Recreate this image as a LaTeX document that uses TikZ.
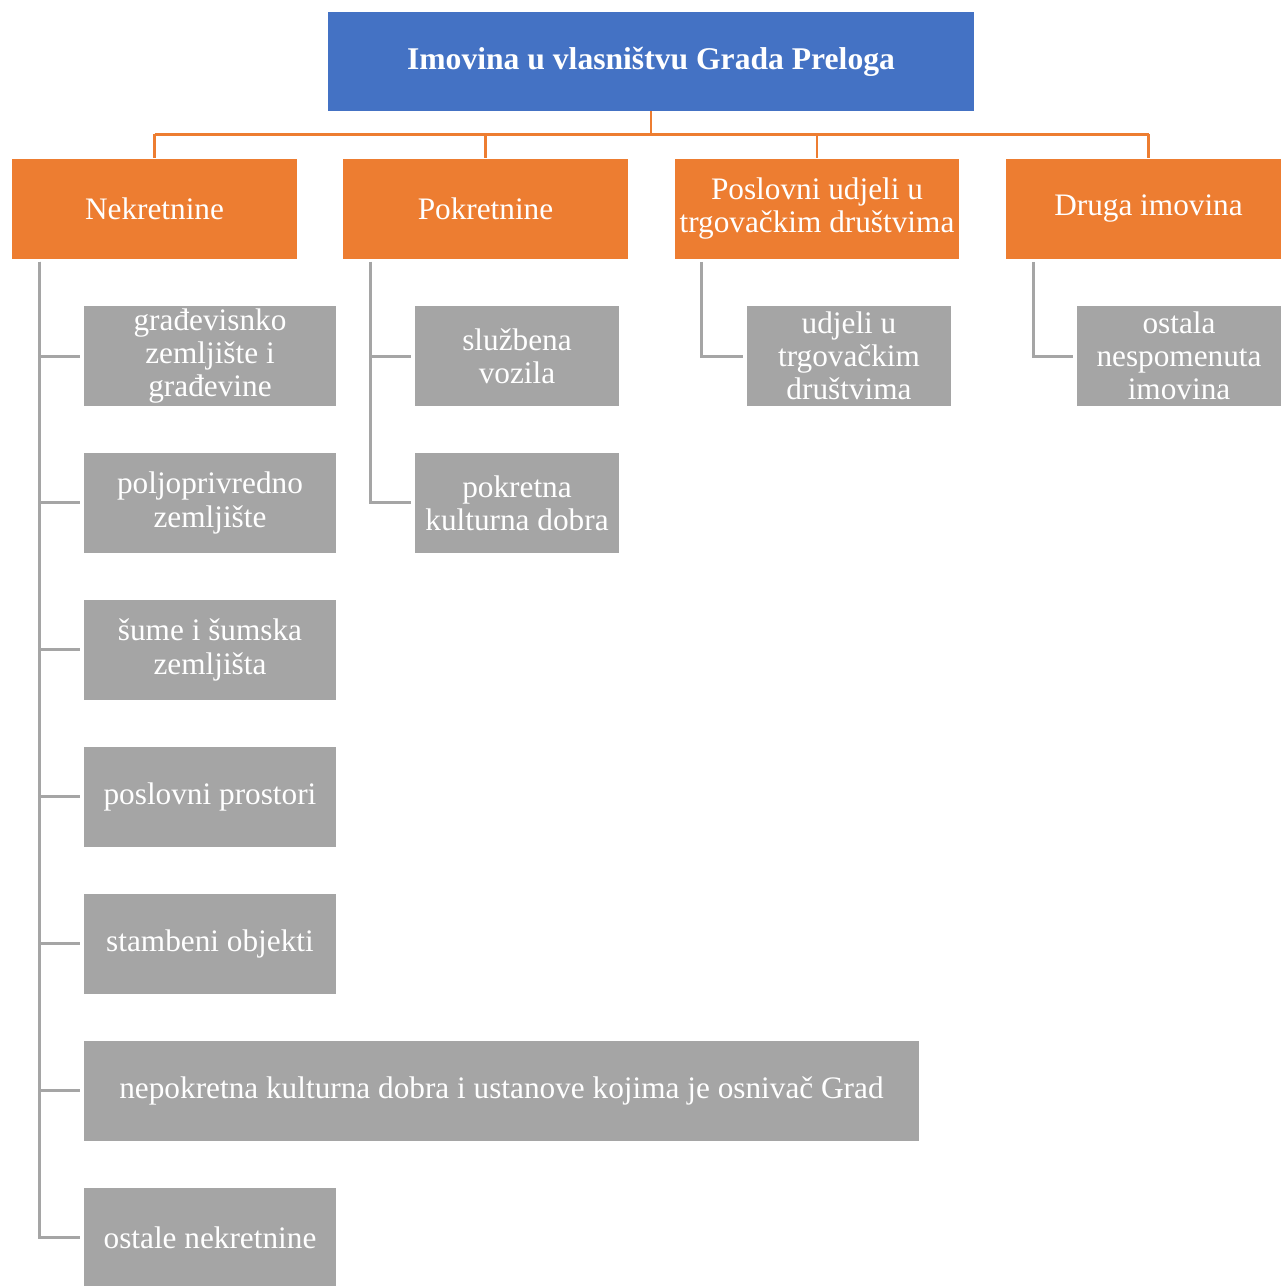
\documentclass[tikz,border=0pt]{standalone}
\usepackage{fontspec}
\setmainfont{Liberation Serif}
\usetikzlibrary{positioning, calc}
\definecolor{topblue}{HTML}{4472C4}
\definecolor{orangefill}{HTML}{ED7D31}
\definecolor{grayfill}{HTML}{A5A5A5}
\begin{document}
\begin{tikzpicture}[
        x=0.02cm, y=-0.02cm,
        every node/.style={inner sep=0pt, outer sep=0pt, align=center, text=white,
            font=\fontsize{17.8}{18.8}\selectfont},
        root/.style={fill=topblue, minimum width=12.92cm, minimum height=1.98cm,
            font=\bfseries\fontsize{18}{18.8}\selectfont},
        group/.style={fill=orangefill, minimum width=5.7cm, minimum height=2cm},
        item/.style={fill=grayfill, minimum width=5.04cm, minimum height=2cm},
        subitem/.style={fill=grayfill, minimum width=4.08cm, minimum height=2cm},
        bus/.style={draw=orangefill, line width=1.7pt},
        link/.style={draw=grayfill, line width=1.7pt},
    ]
        \useasboundingbox (0,0) rectangle (1281,1286);
        \clip (0,0) rectangle (1281,1286);
        % Root
        \node[root] (top) at (651,61.5) {Imovina u vlasništvu Grada Preloga};
        \coordinate (fork) at (651,134);
        % Second level
        \node[group] (nek) at (154.5,209) {Nekretnine};
        \node[group] (pok) at (485.5,209) {Pokretnine};
        \node[group] (pos) at (817,209) {Poslovni udjeli u\\trgovačkim društvima};
        \node[group] (dru) at (1148.5,209) {\strut Druga imovina};
        % Nekretnine items
        \node[item] (n1) at (210,356) {građevisnko\\zemljište i\\građevine};
        \node[item, below=0.94cm of n1] (n2) {poljoprivredno\\zemljište};
        \node[item, below=0.94cm of n2] (n3) {šume i šumska\\zemljišta};
        \node[item, below=0.94cm of n3] (n4) {poslovni prostori};
        \node[item, below=0.94cm of n4] (n5) {stambeni objekti};
        \node[item, below=0.94cm of n5, anchor=north west, minimum width=16.7cm]
            at (n5.south west) (n6) {nepokretna kulturna dobra i ustanove kojima je osnivač Grad};
        \node[item, below=0.94cm of n6.south west, anchor=north west] (n7) {ostale nekretnine};
        % Pokretnine items
        \node[subitem] (p1) at (517,356) {službena\\vozila};
        \node[subitem, below=0.94cm of p1] (p2) {pokretna\\kulturna dobra};
        % Poslovni udjeli item
        \node[subitem] (u1) at (849,356) {udjeli u\\trgovačkim\\društvima};
        % Druga imovina item
        \node[subitem] (d1) at (1179,356) {ostala\\nespomenuta\\imovina};

        \draw[bus] (top.south) -- (fork);
        \draw[bus] (fork -| nek.north) -- (fork -| dru.north);
        \foreach \g in {nek,pok,pos,dru}
            \draw[bus] (fork -| \g.north) -- ([yshift=0.02cm]\g.north);
        \foreach \c in {n1,n2,n3,n4,n5,n6,n7}
            \draw[link] ($(nek.south west)+(27,3)$) |- ([xshift=-0.08cm]\c.west);
        \foreach \c in {p1,p2}
            \draw[link] ($(pok.south west)+(27,3)$) |- ([xshift=-0.08cm]\c.west);
        \draw[link] ($(pos.south west)+(27,3)$) |- ([xshift=-0.08cm]u1.west);
        \draw[link] ($(dru.south west)+(27,3)$) |- ([xshift=-0.08cm]d1.west);
    \end{tikzpicture}
\end{document}
